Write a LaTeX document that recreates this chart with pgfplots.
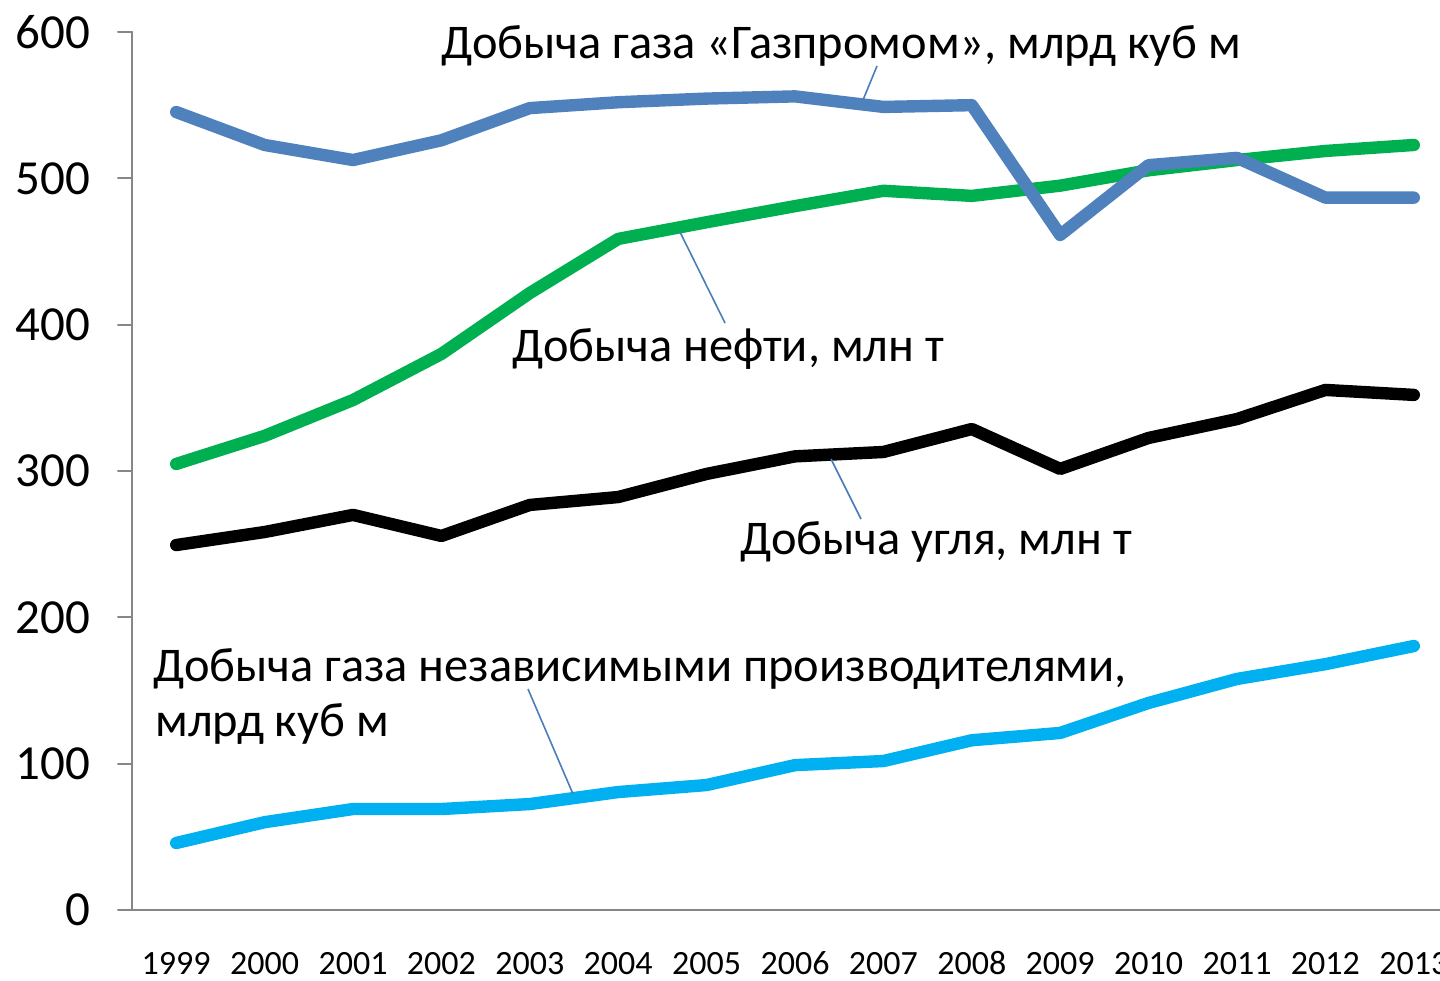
\documentclass[border=0pt]{standalone}
\usepackage{fontspec}
\setmainfont{Carlito}
\usepackage{pgfplots}
\pgfplotsset{compat=1.18}
\definecolor{gaz}{HTML}{4F81BD}
\definecolor{oil}{HTML}{00B050}
\definecolor{ind}{HTML}{00B0F0}
\definecolor{lead}{HTML}{4A7EBB}
\definecolor{axg}{HTML}{868686}
\begin{document}
\begin{tikzpicture}
\useasboundingbox (0,0) rectangle (720pt,490pt);
\clip (0,0) rectangle (720pt,490pt);
\begin{axis}[
  at={(66pt,35pt)}, anchor=south west,
  scale only axis, width=663pt, height=439pt,
  xmin=-0.5, xmax=14.5, ymin=0, ymax=600,
  axis x line*=bottom, axis y line*=left,
  axis line style={draw=axg, line width=1pt},
  ytick={0,100,...,600},
  tick align=outside,
  major tick length=7pt,
  every tick/.style={draw=axg, line width=1pt},
  xtick={0,...,14},
  xticklabels={1999,2000,2001,2002,2003,2004,2005,2006,2007,2008,2009,2010,2011,2012,2013},
  major x tick style={draw=none},
  extra x ticks={-0.5,0.5,...,14.5},
  extra x tick labels={},
  extra x tick style={major tick length=5pt, tick style={draw=axg, line width=1pt}},
  /pgf/number format/assume math mode=true,
  xticklabel style={font=\fontsize{17}{19}\selectfont, anchor=base, yshift=-25pt},
  yticklabel style={font=\fontsize{24.5}{28}\selectfont, anchor=east, xshift=-10.5pt},
  clip=false,
  line join=round, line cap=round,
]
\addplot[oil, line width=6.2pt] coordinates {(0,304.8)(1,324)(2,348.5)(3,380)(4,421.6)(5,458.6)(6,470)(7,481)(8,491.5)(9,488)(10,495)(11,505.5)(12,512.5)(13,518.7)(14,522.8)};
\addplot[gaz, line width=6.2pt] coordinates {(0,545.3)(1,522.8)(2,512.5)(3,526)(4,548)(5,552)(6,554.5)(7,556)(8,548.8)(9,550)(10,461.3)(11,509)(12,514)(13,486.8)(14,486.8)};
\addplot[ind, line width=6.2pt] coordinates {(0,45.8)(1,60)(2,69)(3,69)(4,72.4)(5,80.6)(6,85.4)(7,99)(8,101.8)(9,116)(10,121)(11,141.5)(12,157.9)(13,168)(14,180.4)};
\addplot[black, line width=6.2pt] coordinates {(0,249.4)(1,258.3)(2,270)(3,255.6)(4,276.8)(5,282.2)(6,298)(7,310)(8,313)(9,328.7)(10,301.4)(11,322.6)(12,335.5)(13,355.4)(14,352)};
\end{axis}
\begin{scope}[x=0.5pt,y=-0.5pt,yshift=490pt, font=\fontsize{24.2}{29}\selectfont]
\draw[lead, line width=0.8pt] (877,66) -- (863,100);
\draw[lead, line width=0.8pt] (680,232) -- (725,323);
\draw[lead, line width=0.8pt] (831,459) -- (861,519);
\draw[lead, line width=0.8pt] (528,689) -- (573,794);
\node[anchor=base west, inner sep=0] at (441,59) {Добыча газа «Газпромом», млрд куб м};
\node[anchor=base west, inner sep=0] at (512,362) {Добыча нефти, млн т};
\node[anchor=base west, inner sep=0] at (740,555) {Добыча угля, млн т};
\node[anchor=base west, inner sep=0] at (153,682) {Добыча газа независимыми производителями,};
\node[anchor=base west, inner sep=0] at (155,737) {млрд куб м};
\end{scope}
\end{tikzpicture}
\end{document}
